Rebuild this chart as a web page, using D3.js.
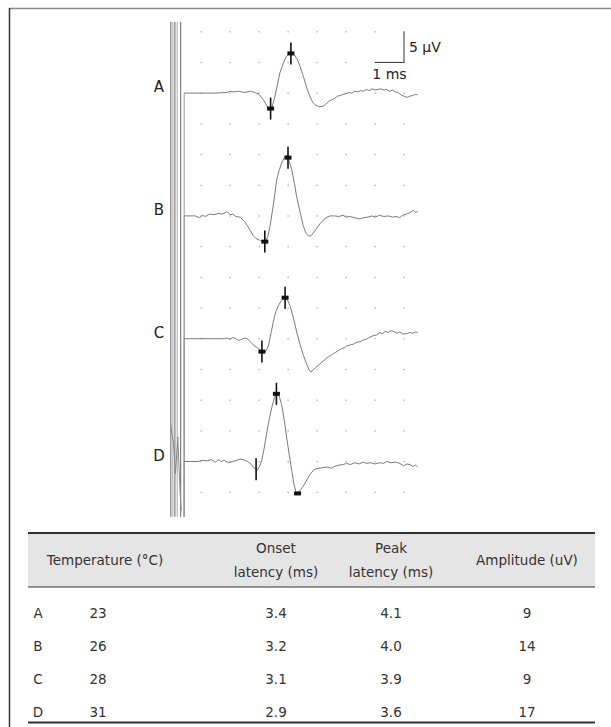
<!DOCTYPE html>
<html>
<head>
<meta charset="utf-8">
<script src="https://cdn.jsdelivr.net/npm/d3@7"></script>
<style>
  body { margin: 0; background: #fff; }
  svg { display: block; font-family: "DejaVu Sans", sans-serif; }
</style>
</head>
<body>
<svg id="fig" width="611" height="727"></svg>
<script>
// table values
const traces = ["A", "B", "C", "D"]
const temperature = [23, 26, 28, 31]
const onsetLatency = [3.4, 3.2, 3.1, 2.9]
const peakLatency = [4.1, 4.0, 3.9, 3.6]
const amplitude = [9, 14, 9, 17]

// waveforms: [time ms, µV], positive drawn upward
const waveA = [[0.42,0],[1.0,0],[1.5,0],[1.9,0.1],[2.0,0.3],[2.1,0.2],[2.3,0.3],[2.5,0.1],[2.7,0.3],[2.85,0.1],[3.0,-0.2],[3.15,-1.1],[3.3,-2.3],[3.38,-2.6],[3.45,-2.3],[3.55,-0.5],[3.72,3.3],[3.85,5.0],[3.95,6.0],[4.05,6.4],[4.13,6.5],[4.22,6.2],[4.3,5.7],[4.42,4.3],[4.53,2.7],[4.65,0.8],[4.76,-0.6],[4.85,-1.5],[4.93,-1.9],[5.05,-2.2],[5.2,-2.2],[5.3,-1.8],[5.4,-1.4],[5.5,-1.1],[5.6,-0.9],[5.7,-0.5],[5.8,-0.4],[5.9,-0.2],[6.0,-0.1],[6.1,0.1],[6.2,0.0],[6.3,0.3],[6.4,0.2],[6.5,0.4],[6.6,0.3],[6.7,0.6],[6.8,0.4],[6.9,0.7],[7.0,0.5],[7.1,0.6],[7.2,0.7],[7.3,0.5],[7.4,0.6],[7.5,0.3],[7.6,0.5],[7.7,0.2],[7.8,0.1],[7.9,-0.3],[8.0,-0.5],[8.1,-0.7],[8.2,-0.5],[8.3,-0.4],[8.4,-0.2],[8.47,-0.3]]
const waveB = [[0.42,0],[0.8,0],[0.95,-0.3],[1.05,0.1],[1.15,-0.1],[1.3,0.3],[1.45,0.2],[1.6,0.4],[1.75,0.3],[1.9,0.7],[2.0,0.2],[2.1,0.3],[2.2,-0.1],[2.35,-0.2],[2.5,-0.9],[2.6,-1.6],[2.7,-2.4],[2.8,-3.2],[2.9,-3.7],[3.05,-4.0],[3.21,-4.2],[3.3,-3.4],[3.38,-1.7],[3.5,2.0],[3.61,5.9],[3.7,7.5],[3.78,8.6],[3.88,9.6],[3.97,9.9],[4.05,8.8],[4.13,7.5],[4.22,5.3],[4.3,3.1],[4.42,0.6],[4.53,-1.7],[4.63,-2.9],[4.72,-3.3],[4.8,-3.2],[4.9,-2.6],[4.99,-2.0],[5.1,-1.3],[5.22,-0.65],[5.35,-0.2],[5.45,0],[5.6,0],[5.75,-0.1],[5.9,0.1],[6.0,-0.2],[6.15,-0.1],[6.3,-0.3],[6.48,-0.5],[6.6,-0.3],[6.75,-0.2],[6.9,0.0],[7.0,-0.2],[7.15,0.1],[7.3,-0.1],[7.45,0.0],[7.6,-0.2],[7.75,-0.1],[7.85,-0.3],[7.95,0.1],[8.09,0.3],[8.2,0.5],[8.32,0.9],[8.4,0.6],[8.47,0.7]]
const waveC = [[0.42,0],[1.0,0],[1.5,0],[1.8,0],[1.9,0.1],[2.0,-0.1],[2.1,0.2],[2.2,0],[2.3,-0.3],[2.4,-0.1],[2.5,0.1],[2.6,0],[2.7,-0.5],[2.8,-1.0],[2.95,-1.5],[3.1,-2.1],[3.15,-2.3],[3.25,-2.0],[3.32,-1.2],[3.42,1.0],[3.49,2.7],[3.58,4.4],[3.67,5.4],[3.77,6.2],[3.87,6.8],[3.97,6.4],[4.07,5.4],[4.18,3.5],[4.3,1.1],[4.42,-1.0],[4.53,-2.7],[4.65,-4.2],[4.72,-5.0],[4.78,-5.4],[4.85,-5.2],[4.95,-4.7],[5.1,-4.1],[5.2,-3.7],[5.3,-3.3],[5.4,-2.9],[5.5,-2.7],[5.56,-2.4],[5.65,-2.2],[5.75,-1.9],[5.85,-1.6],[5.95,-1.5],[6.02,-1.2],[6.15,-1.0],[6.25,-0.9],[6.35,-0.6],[6.48,-0.5],[6.6,-0.2],[6.7,-0.1],[6.8,0.2],[6.94,0.5],[7.05,0.6],[7.17,1.0],[7.25,0.8],[7.35,1.2],[7.45,1.0],[7.55,1.3],[7.63,1.2],[7.75,0.9],[7.85,1.1],[7.95,0.8],[8.09,0.8],[8.2,1.0],[8.3,0.9],[8.4,1.1],[8.47,1.0]]
const waveD = [[0.42,0],[0.9,0],[1.05,0.2],[1.2,0.1],[1.35,0.3],[1.5,-0.1],[1.6,0.3],[1.7,0],[1.8,0.2],[1.95,-0.2],[2.1,0],[2.25,0.2],[2.35,0.4],[2.45,0.3],[2.57,0.1],[2.7,-0.3],[2.8,-0.9],[2.94,-1.4],[3.02,-0.8],[3.09,0.1],[3.18,2.2],[3.26,4.5],[3.35,6.8],[3.44,8.8],[3.53,10.4],[3.62,11.2],[3.7,10.6],[3.78,9.3],[3.87,6.8],[3.95,4.0],[4.04,1.2],[4.13,-1.5],[4.2,-3.6],[4.27,-4.9],[4.33,-5.2],[4.43,-4.6],[4.53,-4.0],[4.65,-3.0],[4.76,-2.1],[4.9,-1.3],[5.05,-1.1],[5.2,-1.0],[5.35,-0.9],[5.5,-1.1],[5.6,-0.8],[5.75,-0.6],[5.9,-0.5],[6.02,-0.3],[6.15,-0.5],[6.3,-0.2],[6.45,-0.4],[6.6,-0.1],[6.7,-0.3],[6.85,-0.2],[7.0,-0.4],[7.15,-0.2],[7.3,-0.3],[7.4,0],[7.55,-0.2],[7.7,-0.1],[7.85,-0.3],[7.98,-0.7],[8.1,-0.4],[8.21,-0.5],[8.3,-0.8],[8.4,-0.6],[8.47,-0.9]]
const waves = [waveA, waveB, waveC, waveD]

// cursor marks: [time ms, kind] t = tick, b = box
const marksA = [[3.4, "tb"], [4.1, "tb"]]
const marksB = [[3.2, "tb"], [4.0, "tb"]]
const marksC = [[3.1, "tb"], [3.9, "tb"]]
const marksD = [[2.9, "t"], [3.6, "tb"], [4.33, "b"]]
const marks = [marksA, marksB, marksC, marksD]

// stimulus artifact sweeps (ms)
const artifactT = [-0.04, 0.03, 0.1, 0.18, 0.3]
const artifactWiggleD = [[-0.05,6],[0.05,3],[0.12,-2],[0.2,4],[0.28,-5],[0.32,-8]]

const gridT = [1, 2, 3, 4, 5, 6, 7, 8]
const gridV = [10, 5, 0, -5]

const svg = d3.select("#fig")

// frame
svg.append("line").attr("x1", 9).attr("x2", 611).attr("y1", 8.5).attr("y2", 8.5)
  .attr("stroke", "#888").attr("stroke-width", 1.5)
svg.append("line").attr("x1", 9.5).attr("x2", 9.5).attr("y1", 8).attr("y2", 727)
  .attr("stroke", "#333").attr("stroke-width", 1.5)

const x = d3.scaleLinear().domain([0, 8]).range([172, 404])
const band = d3.scaleBand().domain(traces).range([16.35, 507.55])
const y = d3.scaleLinear().domain([-7.5, 12.5]).range([band.bandwidth(), 0])

const plot = svg.append("g")

// artifact
const yTop = band("A") + y(11.6)
const yBot = band("D") + y(-9.0)
artifactT.forEach((t, i) => {
  plot.append("line")
    .attr("x1", x(t)).attr("x2", x(t)).attr("y1", yTop).attr("y2", yBot)
    .attr("stroke", i % 2 ? "#aaa" : "#666").attr("stroke-width", 1)
})
plot.append("path")
  .attr("d", d3.line().x(d => x(d[0])).y(d => band("D") + y(d[1]))(artifactWiggleD))
  .attr("fill", "none").attr("stroke", "#888")

traces.forEach((k, i) => {
  const g = plot.append("g").attr("transform", `translate(0,${band(k)})`)

  // dotted grid
  gridV.forEach(v => gridT.forEach(t => {
    g.append("rect").attr("x", x(t) - 0.5).attr("y", y(v) - 0.5)
      .attr("width", 1.2).attr("height", 1.2).attr("fill", "#999")
  }))

  // trace start from below
  g.append("line")
    .attr("x1", x(waves[i][0][0])).attr("x2", x(waves[i][0][0]))
    .attr("y1", y(0)).attr("y2", yBot - band(k))
    .attr("stroke", "#999")

  g.append("path")
    .attr("d", d3.line().x(d => x(d[0])).y(d => y(d[1]))(waves[i]))
    .attr("fill", "none").attr("stroke", "#7a7a7a").attr("stroke-width", 1)

  g.append("text").attr("x", 159).attr("y", y(0) - 1)
    .attr("text-anchor", "middle").attr("font-size", 15).attr("fill", "#222")
    .text(k)

  // cursors
  const interp = t => {
    const w = waves[i]
    const j = d3.bisector(d => d[0]).left(w, t)
    const a = w[Math.max(0, j - 1)], b = w[j]
    return a[1] + (b[1] - a[1]) * (t - a[0]) / ((b[0] - a[0]) || 1)
  }
  marks[i].forEach(([t, kind]) => {
    const v = interp(t)
    if (kind.includes("t")) {
      g.append("line").attr("x1", x(t)).attr("x2", x(t))
        .attr("y1", y(v) - 11).attr("y2", y(v) + 11)
        .attr("stroke", "#111").attr("stroke-width", 1.6)
    }
    if (kind.includes("b")) {
      g.append("rect").attr("x", x(t) - 3.5).attr("y", y(v) - 2)
        .attr("width", 7).attr("height", 4).attr("fill", "#111")
    }
  })
})

// scale bar (1 ms x 5 µV) in top band
const sb = plot.append("g").attr("transform", `translate(0,${band("A")})`)
sb.append("path")
  .attr("d", `M${x(7)},${y(5)}H${x(8)}V${y(10)}`)
  .attr("fill", "none").attr("stroke", "#333").attr("stroke-width", 1)
sb.append("text").attr("x", x(8) + 5).attr("y", y(7.5) + 5)
  .attr("font-size", 14).attr("fill", "#222").text("5 µV")
sb.append("text").attr("x", x(7.5)).attr("y", y(5) + 17)
  .attr("text-anchor", "middle").attr("font-size", 14).attr("fill", "#222").text("1 ms")

// table
const tbl = svg.append("g")
const tL = 28, tR = 595
const hTop = 533, hBot = 587, rowY0 = 613, rowH = 33
const colX = [38, 98, 276, 391, 527]
const fs = 13.5

tbl.append("rect").attr("x", tL).attr("y", hTop).attr("width", tR - tL).attr("height", hBot - hTop)
  .attr("fill", "#e5e5e5")
tbl.append("line").attr("x1", tL).attr("x2", tR).attr("y1", hTop).attr("y2", hTop)
  .attr("stroke", "#333").attr("stroke-width", 2)
tbl.append("line").attr("x1", tL).attr("x2", tR).attr("y1", hBot).attr("y2", hBot)
  .attr("stroke", "#333").attr("stroke-width", 1)
tbl.append("line").attr("x1", tL).attr("x2", tR).attr("y1", 722.5).attr("y2", 722.5)
  .attr("stroke", "#333").attr("stroke-width", 2)

const hdr = [
  { x: 105, lines: ["Temperature (°C)"] },
  { x: colX[2], lines: ["Onset", "latency (ms)"] },
  { x: colX[3], lines: ["Peak", "latency (ms)"] },
  { x: colX[4], lines: ["Amplitude (uV)"] }
]
hdr.forEach(h => {
  h.lines.forEach((s, j) => {
    const yy = (hTop + hBot) / 2 + 5 + (j - (h.lines.length - 1) / 2) * 24
    tbl.append("text").attr("x", h.x).attr("y", yy).attr("text-anchor", "middle")
      .attr("font-size", fs).attr("fill", "#333").text(s)
  })
})

traces.forEach((k, i) => {
  const yy = rowY0 + rowH * i + 5
  const cells = [k, temperature[i], onsetLatency[i].toFixed(1), peakLatency[i].toFixed(1), amplitude[i]]
  cells.forEach((c, j) => {
    tbl.append("text").attr("x", colX[j]).attr("y", yy)
      .attr("text-anchor", "middle").attr("font-size", fs).attr("fill", "#333").text(c)
  })
})
</script>
</body>
</html>
